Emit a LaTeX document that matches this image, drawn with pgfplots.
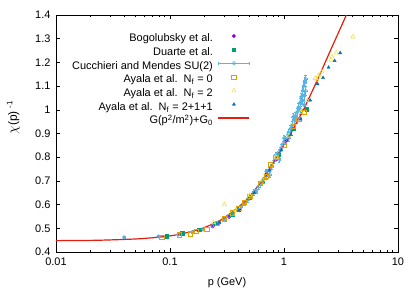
\documentclass[border=0pt]{standalone}
\usepackage{pgfplots}
\pgfplotsset{compat=1.18}
\usepackage{fontspec}
\setmainfont{Liberation Sans}
\definecolor{cpurple}{HTML}{9400D3}
\definecolor{cgreen}{HTML}{009E73}
\definecolor{cblue}{HTML}{56B4E9}
\definecolor{corange}{HTML}{E69F00}
\definecolor{cyellow}{HTML}{F0E442}
\definecolor{cdblue}{HTML}{0072B2}
\definecolor{cred}{HTML}{E51E10}
\pgfplotsset{
  markleg/.style={legend image code/.code={\path[draw=none,fill=none] (0bp,3.8bp) -- (31bp,3.8bp); \draw[##1] plot coordinates {(15.5bp,3.8bp)};}},
  lineleg/.style={legend image code/.code={\draw[##1] (0bp,3.8bp) -- (31bp,3.8bp);}},
  errleg/.style={legend image code/.code={\draw[cblue,line width=0.6bp] (0bp,3.8bp) -- (31bp,3.8bp) (0bp,2.3bp)--(0bp,5.3bp) (31bp,2.3bp)--(31bp,5.3bp); \draw[##1] plot coordinates {(15.5bp,3.8bp)};}},
}
\begin{document}
\begin{tikzpicture}
\begin{axis}[
  at={(0,0)}, anchor=south west,
  scale only axis, width=342bp, height=237bp,
  xmode=log, xmin=0.01, xmax=10, ymin=0.4, ymax=1.4,
  xtick={0.01,0.1,1,10}, xticklabels={0.01,0.1,1,10},
  ytick={0.4,0.5,0.6,0.7,0.8,0.9,1,1.1,1.2,1.3,1.4},
  yticklabels={0.4,0.5,0.6,0.7,0.8,0.9,1,1.1,1.2,1.3,1.4},
  minor y tick num=0,
  tick align=inside, major tick length=4bp, minor tick length=2.2bp,
  axis line style={line width=0.7bp}, every tick/.style={black, line width=0.6bp},
  font=\fontsize{11}{13}\selectfont,
  xticklabel style={yshift=-2bp},
  yticklabel style={xshift=-2bp},
  xlabel={p (GeV)},
  xlabel style={at={(axis description cs:0.5,-0.13)}, anchor=center},
  ylabel={{\fontsize{14}{14}\selectfont$\chi$}(p) \textsuperscript{-1}},
  ylabel style={at={(axis description cs:-0.125,0.567)}, anchor=center, font=\fontsize{12}{14}\selectfont},
  legend plot pos=right, legend cell align=right,
  legend style={at={(axis description cs:0.568,0.925)}, anchor=north east, draw=none, fill=none,
    inner sep=0pt, row sep=0pt, column sep=5bp,
    nodes={inner sep=0pt, text height=9bp, text depth=4.67bp}},
  clip=true,
]
% Bogolubsky et al.
\addplot[only marks, mark=*, mark size=1.7bp, color=cpurple, markleg] coordinates {
(0.237,0.508) (0.27,0.522) (0.33,0.548) (0.41,0.576) (0.52,0.64) (0.69,0.726) (0.85,0.79) (1.05,0.87)
};
\addlegendentry{Bogolubsky et al.}
% Duarte et al.
\addplot[only marks, mark=square*, mark size=1.7bp, color=cgreen, markleg] coordinates {
(0.093,0.467) (0.128,0.480) (0.18,0.493) (0.25,0.52) (0.35,0.56) (0.5,0.63) (0.65,0.70) (0.9,0.81) (1.2,0.92) (1.59,1.002)
};
\addlegendentry{Duarte et al.}
% Cucchieri and Mendes SU(2)
\addplot[only marks, mark=o, mark size=1.8bp, color=cblue, line width=0.5bp, errleg,
  error bars/.cd, x dir=both, x explicit, y dir=both, y explicit,
  error bar style={line width=0.5bp}, error mark options={rotate=90, mark size=1.2bp}]
  coordinates {
(0.0395,0.462) +- (0.001,0.003)
(0.079,0.466) +- (0.002,0.003)
(0.118,0.474) +- (0.003,0.004)
(0.157,0.484) +- (0.004,0.004)
(0.196,0.495) +- (0.005,0.005)
(0.235,0.510) +- (0.006,0.005)
(0.27,0.525) +- (0.007,0.006)
(0.30,0.540) +- (0.008,0.006)
(0.33,0.552) +- (0.008,0.007)
(0.36,0.565) +- (0.009,0.007)
(0.39,0.580) +- (0.010,0.008)
(0.42,0.592) +- (0.010,0.008)
(0.45,0.605) +- (0.011,0.008)
(0.48,0.620) +- (0.012,0.009)
(0.51,0.635) +- (0.013,0.009)
(0.54,0.648) +- (0.013,0.009)
(0.57,0.660) +- (0.014,0.010)
(0.60,0.675) +- (0.015,0.010)
(0.63,0.690) +- (0.016,0.010)
(0.66,0.700) +- (0.016,0.011)
(0.70,0.720) +- (0.017,0.011)
(0.70,0.740) +- (0.017,0.011)
(0.74,0.745) +- (0.018,0.011)
(0.75,0.725) +- (0.018,0.011)
(0.78,0.760) +- (0.019,0.012)
(0.82,0.785) +- (0.020,0.012)
(0.85,0.810) +- (0.021,0.012)
(0.86,0.800) +- (0.021,0.012)
(0.90,0.820) +- (0.022,0.013)
(0.90,0.790) +- (0.022,0.013)
(0.94,0.840) +- (0.023,0.013)
(0.98,0.855) +- (0.024,0.013)
(1.00,0.880) +- (0.025,0.014)
(1.02,0.870) +- (0.025,0.014)
(1.06,0.885) +- (0.026,0.014)
(1.10,0.905) +- (0.027,0.014)
(1.10,0.880) +- (0.027,0.014)
(1.14,0.920) +- (0.028,0.015)
(1.18,0.935) +- (0.029,0.015)
(1.20,0.970) +- (0.030,0.015)
(1.22,0.955) +- (0.030,0.015)
(1.26,0.975) +- (0.031,0.016)
(1.30,0.990) +- (0.032,0.016)
(1.30,0.960) +- (0.032,0.016)
(1.34,1.010) +- (0.033,0.016)
(1.38,1.030) +- (0.034,0.017)
(1.40,1.000) +- (0.035,0.017)
(1.42,1.055) +- (0.035,0.017)
(1.45,1.040) +- (0.036,0.017)
(1.46,1.080) +- (0.036,0.017)
(1.49,1.100) +- (0.037,0.018)
(1.50,1.060) +- (0.037,0.018)
(1.50,1.020) +- (0.037,0.018)
(1.52,1.120) +- (0.038,0.018)
(1.55,1.130) +- (0.038,0.018)
(1.55,1.080) +- (0.038,0.018)
};
\addlegendentry{Cucchieri and Mendes SU(2)}
% Ayala Nf=0
\addplot[only marks, mark=square, mark size=2.2bp, color=corange, line width=0.6bp, markleg] coordinates {
(0.085,0.462) (0.12,0.472) (0.15,0.476) (0.17,0.488) (0.21,0.496) (0.26,0.52) (0.3,0.54) (0.35,0.565)
(0.4,0.585) (0.45,0.61) (0.5,0.635) (0.56,0.655) (0.62,0.69) (0.7,0.72) (0.76,0.77) (0.85,0.80)
(1.0,0.85) (1.2,0.93) (1.35,0.96) (1.5,0.99)
};
\addlegendentry{Ayala et al.\ \ N\textsubscript{f} = 0}
% Ayala Nf=2
\addplot[only marks, mark=triangle, mark size=2.4bp, color=cyellow, line width=0.6bp, markleg] coordinates {
(0.24,0.525) (0.30,0.60) (0.38,0.575) (0.5,0.64) (0.65,0.705) (0.85,0.80) (1.1,0.89) (1.4,0.99)
(1.6,1.04) (1.88,1.133) (1.94,1.126) (2.0,1.145) (2.15,1.16) (2.59,1.21) (2.64,1.224) (2.87,1.24) (4.02,1.308)
};
\addlegendentry{Ayala et al.\ \ N\textsubscript{f} = 2}
% Ayala Nf=2+1+1
\addplot[only marks, mark=triangle*, mark size=1.8bp, color=cdblue, markleg] coordinates {
(0.27,0.525) (0.4,0.575) (0.55,0.65) (0.75,0.745) (0.95,0.83) (1.15,0.895) (1.4,0.96) (1.7,1.04)
(1.97,1.109) (2.2,1.135) (2.46,1.179) (2.78,1.207) (3.11,1.24)
};
\addlegendentry{Ayala et al.\ \ N\textsubscript{f} = 2+1+1}
% fit curve
\addplot[cred, line width=1.2bp, smooth, lineleg] coordinates {
(0.01,0.448) (0.02,0.449) (0.03,0.451) (0.05,0.455) (0.07,0.460) (0.1,0.468) (0.13,0.478)
(0.17,0.492) (0.2,0.503) (0.26,0.527) (0.3,0.545) (0.4,0.59) (0.5,0.635) (0.66,0.71) (0.8,0.775)
(0.96,0.839) (1.14,0.898) (1.3,0.95) (1.5,1.005) (1.64,1.045) (1.96,1.125) (2.5,1.24) (3.0,1.325) (3.6,1.41)
};
\addlegendentry{G(p\textsuperscript{2}/m\textsuperscript{2})+G\textsubscript{0}}
\end{axis}
\path (-56bp,-39bp) rectangle (359bp,252bp);
\end{tikzpicture}
\end{document}
